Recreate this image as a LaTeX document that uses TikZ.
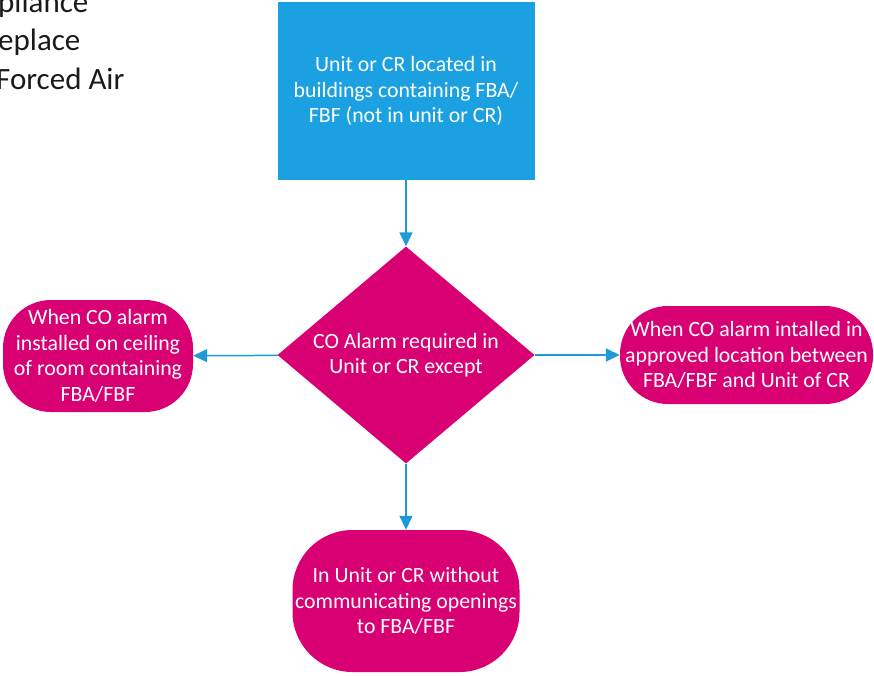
\documentclass[tikz,border=0pt]{standalone}
\usepackage{fontspec}
\setmainfont{Carlito}
\usetikzlibrary{shapes.geometric,arrows.meta}
\definecolor{boxblue}{HTML}{1BA1E2}
\definecolor{boxmagenta}{HTML}{D80073}
\definecolor{lineblue}{HTML}{1E9BD7}
\definecolor{legendgray}{HTML}{1A1A1A}
\begin{document}
\begin{tikzpicture}[x=1pt,y=-1pt,every node/.style={align=center,text=white,font=\fontsize{21.8}{25.5}\selectfont,inner sep=0pt},bluebox/.style={rectangle,fill=boxblue,minimum width=257pt,minimum height=178pt},decision/.style={diamond,shape aspect=1.18,fill=boxmagenta,minimum width=257pt,minimum height=217pt},endbox/.style={rectangle,fill=boxmagenta,rounded corners=48pt},legend/.style={anchor=base west,align=left,text=legendgray,font=\fontsize{31}{38}\selectfont},link/.style={draw=lineblue,line width=1.5pt,-{Triangle[width=13pt,length=14pt]}}]
\useasboundingbox (0,0) rectangle (874,675);
\node[legend] (l1) at (-2,12) {pliance};
\node[legend] (l2) at (-2,50) {eplace};
\node[legend] (l3) at (-4,89) {Forced Air};
\node[bluebox] (top) at (406,91) {Unit or CR located in\\ buildings containing FBA/\\ FBF (not in unit or CR)};
\node[decision] (dec) at (406,355) {CO Alarm required in\\ Unit or CR except};
\node[endbox,minimum width=190pt,minimum height=112pt] (left) at (98,356) {When CO alarm\\ installed on ceiling\\ of room containing\\ FBA/FBF};
\node[endbox,minimum width=253pt,minimum height=98pt] (right) at (746.5,355) {When CO alarm intalled in\\ approved location between\\ FBA/FBF and Unit of CR};
\node[endbox,rounded corners=60pt,minimum width=227pt,minimum height=142pt] (bottom) at (406,601) {In Unit or CR without\\ communicating openings\\ to FBA/FBF};
\draw[link] (top) -- (dec);
\draw[link] (dec) -- (left);
\draw[link] (dec) -- (right);
\draw[link] (dec) -- (bottom);
\end{tikzpicture}
\end{document}
